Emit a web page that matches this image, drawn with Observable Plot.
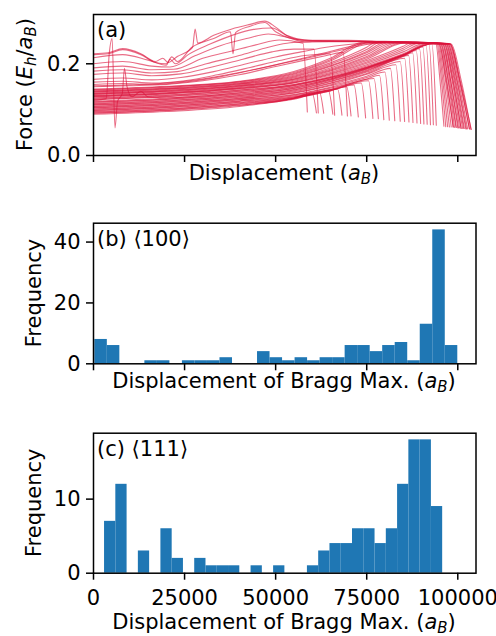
<!DOCTYPE html>
<html><head><meta charset="utf-8">
<script src="https://cdn.jsdelivr.net/npm/d3@7"></script>
<script src="https://cdn.jsdelivr.net/npm/@observablehq/plot@0.6"></script>
<style>body{margin:0;background:#fff}#chart{width:496px;height:636px;overflow:hidden}svg{display:block}</style>
</head><body><div id="chart"></div>
<script>
// ---------- DATA ----------
// Panel (a): force curves, keypoints [displacement (thousand a_B), force (E_h/a_B)]
const lowerBand = [
 [[0,.090],[20,.096],[40,.107],[55,.125],[60,.137],[61.2,.093]],
 [[0,.092],[20,.098],[40,.109],[55,.125],[62,.139],[63.2,.092]],
 [[0,.093],[20,.099],[40,.110],[55,.123],[64.5,.141],[65.7,.090]],
 [[0,.095],[20,.101],[40,.112],[55,.124],[67,.145],[68.2,.088]],
 [[0,.096],[20,.102],[40,.113],[55,.125],[65,.141],[69.5,.150],[70.7,.086]],
 [[0,.098],[20,.104],[40,.115],[55,.126],[65,.141],[71.5,.154],[72.7,.084]],
 [[0,.099],[20,.105],[40,.116],[55,.127],[65,.142],[73.5,.158],[74.7,.082]],
 [[0,.101],[20,.107],[40,.118],[55,.128],[65,.143],[75.5,.163],[76.7,.081]],
 [[0,.102],[20,.108],[40,.119],[55,.130],[65,.144],[77,.168],[78.2,.080]],
 [[0,.104],[20,.110],[40,.121],[55,.132],[65,.147],[75,.167],[78.5,.175],[79.7,.078]],
 [[0,.105],[20,.111],[40,.122],[55,.133],[65,.149],[75,.170],[80,.182],[81.2,.077]],
 [[0,.107],[20,.113],[40,.124],[55,.136],[65,.152],[75,.173],[81.5,.190],[82.7,.076]],
 [[0,.108],[20,.114],[40,.125],[55,.137],[65,.154],[75,.177],[83,.198],[84.2,.075]],
 [[0,.110],[20,.116],[40,.127],[55,.139],[65,.157],[75,.179],[84.2,.205],[85.4,.074]],
 [[0,.111],[20,.117],[40,.128],[55,.141],[65,.158],[75,.182],[85.4,.212],[86.6,.073]],
 [[0,.113],[20,.119],[40,.130],[55,.143],[65,.161],[75,.184],[86.5,.218],[87.7,.072]],
 [[0,.114],[20,.120],[40,.131],[55,.144],[65,.162],[75,.186],[85,.216],[87.6,.224],[88.8,.071]],
 [[0,.116],[20,.122],[40,.133],[55,.146],[65,.164],[75,.188],[85,.217],[88.6,.229],[89.8,.070]],
 [[0,.117],[20,.123],[40,.134],[55,.147],[65,.165],[75,.189],[85,.218],[89.5,.233],[90.7,.069]],
 [[0,.119],[20,.125],[40,.136],[55,.149],[65,.167],[75,.190],[85,.219],[90.4,.237],[91.6,.068]],
 [[0,.120],[3.5,.124],[4.3,.220],[5.1,.255],[5.9,.060],[6.6,.118],[7.9,.135],[8.5,.190],[9.2,.150],[10.5,.128],[13,.140],[15,.128],[20,.126],[40,.137],[55,.150],[65,.167],[75,.191],[85,.219],[91.3,.240],[92.5,.067]],
 [[0,.122],[20,.128],[40,.139],[55,.152],[65,.169],[75,.192],[85,.220],[92.1,.243],[93.3,.067]],
 [[0,.123],[20,.129],[40,.140],[55,.153],[65,.170],[75,.193],[85,.219],[92.9,.244],[94.1,.066]]
];
const plateauBand = [
 [[0,.125],[20,.131],[40,.142],[55,.154],[65,.170],[75,.192],[85,.219],[93,.244],[94,.243],[95.1,.165],[96.2,.064]],
 [[0,.126],[20,.132],[40,.143],[55,.155],[65,.172],[75,.195],[85,.222],[91.8,.244],[94.25,.244],[95.5,.165],[96.7,.063]],
 [[0,.128],[20,.134],[40,.145],[55,.158],[65,.175],[75,.198],[85,.226],[90.6,.244],[94.5,.244],[95.85,.165],[97.2,.063]],
 [[0,.129],[20,.135],[40,.146],[55,.159],[65,.177],[75,.201],[85,.230],[89.4,.245],[94.75,.244],[96.2,.165],[97.7,.062]],
 [[0,.130],[20,.136],[40,.147],[55,.160],[65,.179],[75,.204],[85,.234],[88.2,.245],[95,.244],[96.6,.165],[98.2,.062]],
 [[0,.131],[20,.137],[40,.148],[55,.162],[65,.181],[75,.207],[85,.238],[87.1,.246],[95.25,.244],[96.95,.165],[98.7,.062]],
 [[0,.133],[20,.139],[40,.150],[55,.164],[65,.184],[75,.210],[85.9,.246],[95.5,.244],[97.3,.165],[99.1,.061]],
 [[0,.134],[20,.140],[40,.151],[55,.166],[65,.186],[75,.213],[84.7,.246],[95.75,.244],[97.7,.165],[99.6,.061]],
 [[0,.135],[20,.141],[40,.152],[55,.167],[65,.188],[75,.216],[83.5,.246],[96,.244],[98,.165],[100,.060]],
 [[0,.136],[20,.142],[40,.153],[55,.169],[65,.191],[75,.220],[82.3,.246],[96.25,.244],[98.4,.165],[100.5,.060]],
 [[0,.138],[20,.144],[40,.155],[55,.171],[65,.194],[75,.224],[81.1,.246],[96.5,.244],[98.7,.165],[100.9,.059]],
 [[0,.139],[20,.145],[40,.156],[55,.173],[65,.196],[75,.227],[79.9,.246],[96.75,.244],[99,.165],[101.3,.059]],
 [[0,.140],[20,.146],[40,.157],[55,.175],[65,.199],[75,.231],[78.7,.247],[97,.244],[99.4,.165],[101.8,.059]],
 [[0,.141],[20,.147],[40,.158],[55,.177],[65,.202],[75,.236],[77.5,.247],[97.25,.244],[99.7,.165],[102.2,.058]],
 [[0,.143],[20,.149],[40,.160],[55,.179],[65,.206],[76.3,.247],[97.5,.244],[100.1,.165],[102.7,.058]],
 [[0,.144],[20,.150],[40,.161],[55,.181],[65,.209],[75.2,.247],[97.75,.244],[100.5,.165],[103.2,.058]],
 [[0,.145],[20,.151],[40,.162],[55,.183],[65,.212],[74,.247],[98,.243],[100.6,.165],[103.7,.057]]
];
const upperGroup = [
 [[0,.222],[4,.224],[8,.233],[13,.222],[17,.205],[19,.212],[20.5,.203],[23,.216],[27.2,.236],[27.9,.276],[28.6,.245],[33,.262],[38,.276],[43,.286],[47,.293],[50,.280],[53,.262],[57,.252],[62,.251],[70,.251],[80,.249],[90,.247],[98.2,.243],[100.9,.165],[103.6,.057]],
 [[0,.220],[4,.222],[8,.231],[13,.220],[17,.203],[20,.200],[21.5,.215],[23,.205],[27,.236],[33,.255],[37.6,.270],[38.3,.222],[39,.268],[43,.282],[47,.290],[50,.270],[54,.256],[60,.250],[70,.249],[85,.248],[97.8,.243],[100.4,.165],[103.2,.058]],
 [[0,.213],[8,.220],[15,.208],[20,.197],[21,.210],[22.5,.200],[26,.220],[32,.243],[38,.262],[44,.275],[49,.278],[53,.262],[58,.252],[65,.250],[80,.248],[97.3,.243],[99.8,.165],[102.4,.058]],
 [[0,.200],[8,.205],[16,.195],[21,.193],[28,.218],[35,.240],[42,.255],[48,.265],[53,.258],[58,.248],[66,.248],[80,.248],[96.8,.244],[99.2,.165],[101.6,.059]],
 [[0,.191],[8,.195],[16,.187],[22,.188],[30,.212],[38,.228],[45,.242],[51,.252],[57.5,.245],[58.7,.095]],
 [[0,.184],[8,.187],[16,.180],[23,.183],[31,.200],[40,.218],[48,.236],[54,.246],[60,.248],[70,.249],[85,.248],[96.3,.244],[98.6,.165],[100.9,.059]],
 [[0,.177],[8,.180],[16,.174],[24,.178],[32,.192],[41,.210],[49,.226],[55,.232],[60.5,.232],[61.7,.093]],
 [[0,.166],[8,.169],[16,.165],[24,.170],[33,.183],[42,.200],[50,.215],[57,.226],[63,.235],[70,.242],[80,.247],[95.8,.244],[98,.165],[100.2,.060]],
 [[0,.160],[8,.162],[16,.158],[25,.163],[34,.176],[43,.192],[51,.207],[58,.218],[65,.222],[66.2,.088]],
 [[0,.155],[8,.157],[16,.155],[25,.160],[35,.172],[44,.187],[52,.201],[60,.215],[68,.230],[76,.243],[85,.247],[95.3,.244],[97.4,.165],[99.5,.061]],
 [[0,.150],[10,.152],[20,.155],[30,.163],[40,.176],[50,.194],[58,.208],[64,.218],[68.5,.225],[69.7,.086]],
 [[0,.152],[10,.154],[20,.158],[30,.167],[40,.181],[50,.198],[58,.213],[66,.229],[74,.243],[85,.247],[94.8,.244],[96.8,.165],[98.8,.062]]
];

// Panel (b) <100> histogram
const counts100 = [8,6,0,0,1,1,0,1,1,1,2,0,0,4,2,1,2,1,2,2,6,6,4,6,7,1,13,44,6];
const range100 = [360, 100000];
// Panel (c) <111> histogram
const counts111 = [7,12,0,3,0,6,2,0,2,1,1,1,0,1,0,1,0,0,1,3,4,4,6,6,4,6,12,18,18,9];
const range111 = [3033, 95850];

const xTicks = [0, 25000, 50000, 75000, 100000];
const yTicksA = [0, 0.2], yTicksB = [0, 20, 40], yTicksC = [0, 10];

const panelLabels = {a: [["(a)",""]], b: [["(b) ",""],["⟨100⟩",""]], c: [["(c) ",""],["⟨111⟩",""]]};
const forceLabel = [["Force (",""],["E","i"],["h","s"],["/",""],["a","i"],["B","s"],[")",""]];
const dispLabel = [["Displacement (",""],["a","i"],["B","s"],[")",""]];
const braggLabel = [["Displacement of Bragg Max. (",""],["a","i"],["B","s"],[")",""]];
const freqLabel = [["Frequency",""]];

// ---------- BUILD ----------
const FONT = "DejaVu Sans";
const FS = 21;
const W = 496;
const LINE = "#dc143c", BAR = "#1f77b4";
const style = {fontFamily: FONT, fontSize: FS + "px", background: "white", color: "black", overflow: "hidden"};

const curveRows = [];
let cid = 0;
for (const group of [lowerBand, plateauBand, upperGroup]) {
  for (const c of group) {
    for (const [x, f] of c) curveRows.push({id: cid, x: x * 1000, f});
    cid++;
  }
}
function bins(counts, [lo, hi]) {
  const w = (hi - lo) / counts.length;
  return counts.map((c, i) => ({x1: lo + i * w, x2: lo + (i + 1) * w, count: c})).filter(d => d.count > 0);
}

const axisOpts = {tickSize: 7, strokeWidth: 1.5, fontSize: FS, label: null};

function addLabel(svg, parts, x, y, rotate = 0, anchor = "middle") {
  const ns = "http://www.w3.org/2000/svg";
  const t = document.createElementNS(ns, "text");
  t.setAttribute("transform", `translate(${x},${y})` + (rotate ? ` rotate(${rotate})` : ""));
  t.setAttribute("text-anchor", anchor);
  t.setAttribute("font-family", FONT);
  t.setAttribute("font-size", String(FS));
  t.setAttribute("fill", "black");
  t.setAttribute("style", "white-space:pre");
  let shift = 0;
  for (const [str, kind] of parts) {
    const s = document.createElementNS(ns, "tspan");
    const target = kind === "s" ? 4 : 0;
    if (target !== shift) { s.setAttribute("dy", String(target - shift)); shift = target; }
    if (kind) s.setAttribute("font-style", "italic");
    if (kind === "s") s.setAttribute("font-size", "15");
    s.textContent = str;
    t.appendChild(s);
  }
  svg.appendChild(t);
}

const svgA = Plot.plot({
  width: W, height: 200, style,
  marginTop: 14, marginBottom: 45, marginLeft: 93, marginRight: 20.5,
  x: {domain: [0, 105000], axis: null},
  y: {domain: [0, 0.3075], axis: null},
  marks: [
    Plot.line(curveRows, {x: "x", y: "f", z: "id", stroke: LINE, strokeOpacity: 0.62, strokeWidth: 1.1, curve: "monotone-x", clip: true}),
    Plot.axisX({...axisOpts, ticks: xTicks, tickFormat: () => ""}),
    Plot.axisY({...axisOpts, ticks: yTicksA, tickPadding: 6, tickFormat: d3.format(".1f")}),
    Plot.frame({stroke: "black", strokeWidth: 1.5})
  ]
});
addLabel(svgA, panelLabels.a, 97, 37, 0, "start");
addLabel(svgA, forceLabel, 32, 84.5, -90);
addLabel(svgA, dispLabel, 284, 180);

const svgB = Plot.plot({
  width: W, height: 210, style,
  marginTop: 22.7, marginBottom: 46.7, marginLeft: 93, marginRight: 20.5,
  x: {domain: [0, 105000], axis: null},
  y: {domain: [0, 46.2], axis: null},
  marks: [
    Plot.rectY(bins(counts100, range100), {x1: "x1", x2: "x2", y: "count", fill: BAR}),
    Plot.axisX({...axisOpts, ticks: xTicks, tickFormat: () => ""}),
    Plot.axisY({...axisOpts, ticks: yTicksB, tickPadding: 6, tickFormat: d3.format("d")}),
    Plot.frame({stroke: "black", strokeWidth: 1.5})
  ]
});
addLabel(svgB, panelLabels.b, 97, 45.7, 0, "start");
addLabel(svgB, freqLabel, 41, 93, -90);
addLabel(svgB, braggLabel, 284, 188.3);

const svgC = Plot.plot({
  width: W, height: 226, style,
  marginTop: 22.7, marginBottom: 63.3, marginLeft: 93, marginRight: 20.5,
  x: {domain: [0, 105000], axis: null},
  y: {domain: [0, 18.9], axis: null},
  marks: [
    Plot.rectY(bins(counts111, range111), {x1: "x1", x2: "x2", y: "count", fill: BAR}),
    Plot.axisX({...axisOpts, ticks: xTicks, tickPadding: 10, tickFormat: d3.format("d")}),
    Plot.axisY({...axisOpts, ticks: yTicksC, tickPadding: 6, tickFormat: d3.format("d")}),
    Plot.frame({stroke: "black", strokeWidth: 1.5})
  ]
});
addLabel(svgC, panelLabels.c, 97, 45.7, 0, "start");
addLabel(svgC, freqLabel, 41, 92.7, -90);
addLabel(svgC, braggLabel, 284, 219);

const root = document.getElementById("chart");
root.append(svgA, svgB, svgC);
</script></body></html>
